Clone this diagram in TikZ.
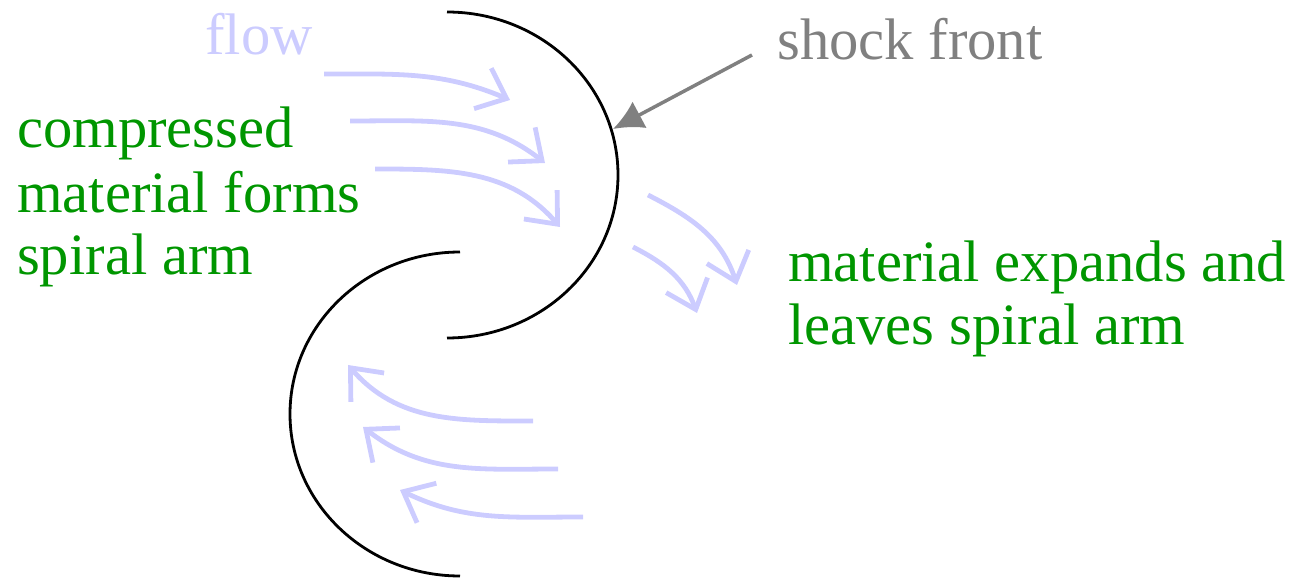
\documentclass[tikz,border=0pt]{standalone}
\usepackage{fontspec}
\setmainfont{Liberation Serif}
\usetikzlibrary{arrows.meta}
\definecolor{flowc}{RGB}{204,204,255}
\definecolor{greenc}{RGB}{0,150,0}
\definecolor{grayc}{RGB}{128,128,128}
\begin{document}
\begin{tikzpicture}[x=1pt,y=1pt,
  lbl/.style={anchor=base west,inner sep=0pt,font=\fontsize{58.6}{64}\selectfont},
  flowarrow/.style={draw=flowc,line width=4.8pt,-{Straight Barb[length=26pt,width=44pt]}},
  shockline/.style={draw=black,line width=2.8pt}]
\useasboundingbox (0,0) rectangle (1299,579);
% shock fronts
\draw[shockline] (447,567) arc[start angle=90,end angle=-90,x radius=171pt,y radius=163pt];
\draw[shockline] (460,327) arc[start angle=90,end angle=270,x radius=170pt,y radius=162pt];
% labels
\node[lbl,text=flowc] (flow) at (205,524) {flow};
\node[lbl,text=grayc] (shock) at (777,519) {shock front};
\node[lbl,text=greenc] (c1) at (17,431) {compressed};
\node[lbl,text=greenc] (c2) at (17,366) {material forms};
\node[lbl,text=greenc] (c3) at (17,304) {spiral arm};
\node[lbl,text=greenc] (e1) at (788,297) {material expands and};
\node[lbl,text=greenc] (e2) at (788,234) {leaves spiral arm};
% shock front pointer
\coordinate (ptail) at (752,524);
\coordinate (phead) at (613,450);
\draw[draw=grayc,line width=3.5pt,-{Latex[length=30pt,width=30pt]}] (ptail) -- (phead);
% incoming flow
\draw[flowarrow] (324,505) to[out=0,in=157] (510,479);
\draw[flowarrow] (350,458) to[out=0,in=142] (545,416);
\draw[flowarrow] (375,410) to[out=0,in=131] (560,352);
% leaving flow
\draw[flowarrow] (648,384) to[out=-27,in=108] (737,294);
\draw[flowarrow] (633,332) to[out=-27,in=110] (697,266);
% lower flow
\draw[flowarrow] (533,158) to[out=180,in=-49] (348,214);
\draw[flowarrow] (558,110) to[out=180,in=-38] (363,152);
\draw[flowarrow] (583,62) to[out=180,in=-26] (400,89);
\end{tikzpicture}
\end{document}
